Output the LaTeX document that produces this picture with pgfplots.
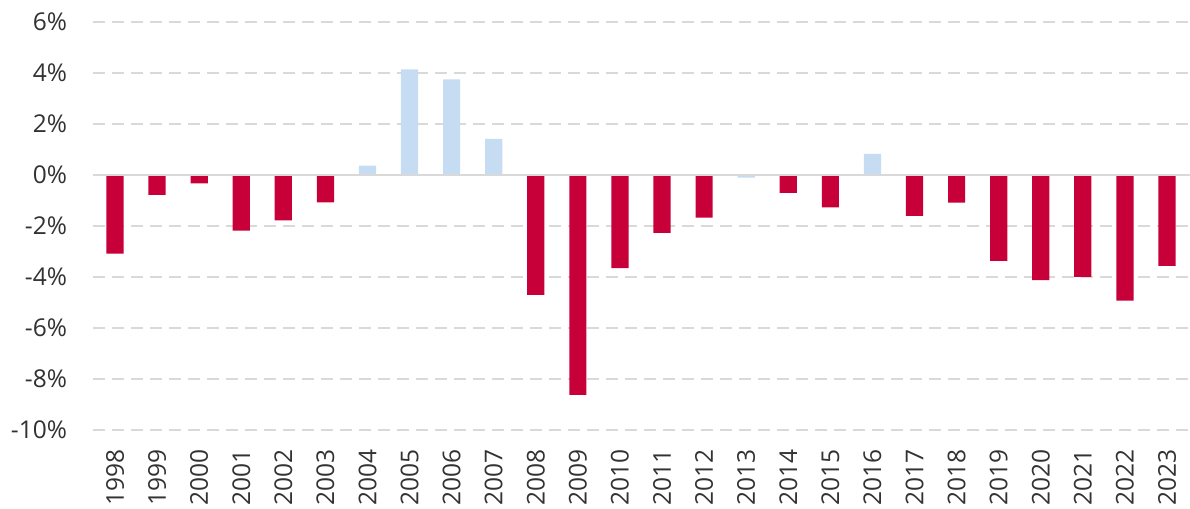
\documentclass[border=0pt]{standalone}
\usepackage{pgfplots}
\pgfplotsset{compat=1.18}
\usepackage{fontspec}
\setmainfont{Open Sans}
\definecolor{barred}{RGB}{200,0,58}
\definecolor{barblue}{RGB}{198,220,243}
\definecolor{gridgray}{RGB}{217,217,217}
\definecolor{txt}{RGB}{50,50,50}
\begin{document}
\begin{tikzpicture}
\begin{axis}[
  at={(0,0)}, anchor=south west,
  scale only axis,
  width=548.5bp, height=204bp,
  xmin=-0.523, xmax=25.547,
  ymin=-10, ymax=6,
  ybar, bar width=8.6bp,
  xtick={0,...,25},
  xticklabels={1998,1999,2000,2001,2002,2003,2004,2005,2006,2007,2008,2009,2010,2011,2012,2013,2014,2015,2016,2017,2018,2019,2020,2021,2022,2023},
  xticklabel style={rotate=90, anchor=east, yshift=0bp, xshift=-6bp, font=\fontsize{12.3}{14}\selectfont, text=txt},
  ytick={-10,-8,...,6},
  yticklabels={-10\%,-8\%,-6\%,-4\%,-2\%,0\%,2\%,4\%,6\%},
  yticklabel style={anchor=east, xshift=-9.5bp, font=\fontsize{12.3}{14}\selectfont, text=txt},
  major tick length=0pt,
  axis line style={draw=none},
  ymajorgrids,
  major grid style={gridgray, line width=1.3bp, dash pattern=on 6bp off 3.5bp},
  clip=false,
]
\addplot[fill=barred, draw=none, bar shift=0pt] coordinates {
 (0,-3.08) (1,-0.78) (2,-0.33) (3,-2.18) (4,-1.78) (5,-1.07)
 (10,-4.70) (11,-8.62) (12,-3.65) (13,-2.27) (14,-1.67)
 (16,-0.70) (17,-1.27) (19,-1.60) (20,-1.08) (21,-3.37)
 (22,-4.12) (23,-4.00) (24,-4.93) (25,-3.56)
};
\addplot[fill=barblue, draw=none, bar shift=0pt] coordinates {
 (6,0.37) (7,4.14) (8,3.75) (9,1.42) (15,-0.10) (18,0.83)
};
\draw[gridgray, line width=1.3bp] (axis cs:-0.523,0) -- (axis cs:25.547,0);
\end{axis}
\pgfresetboundingbox
\path (-46.5bp,-39.5bp) rectangle (548.5bp,215bp);
\end{tikzpicture}
\end{document}
